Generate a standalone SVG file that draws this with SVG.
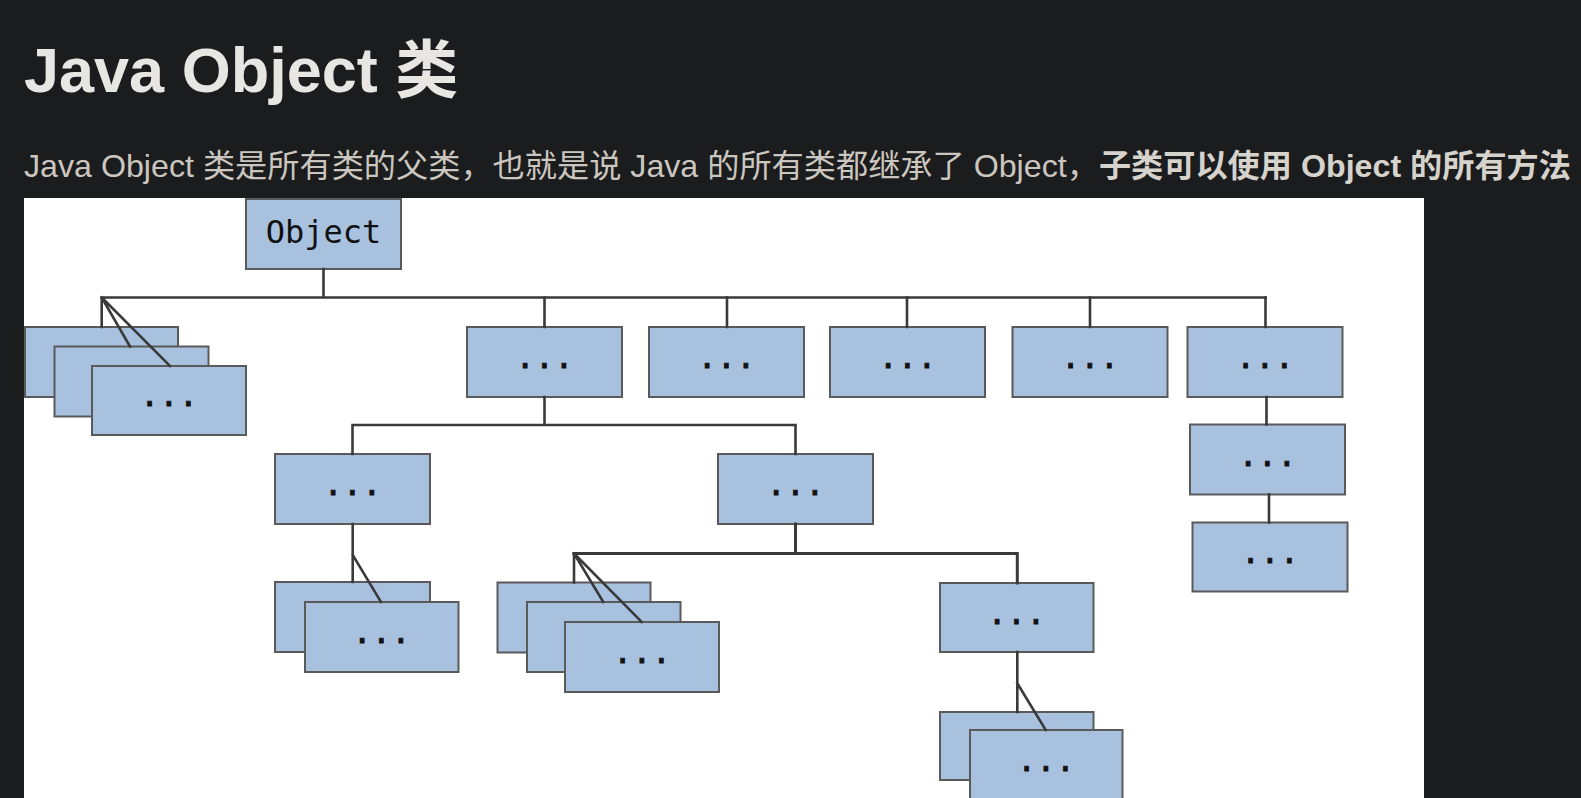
<svg xmlns="http://www.w3.org/2000/svg" width="1581" height="798" viewBox="0 0 1581 798">
<style>
.bg{fill:#1b1c1e}
.title{font-family:"Liberation Sans","Noto Sans CJK SC",sans-serif;font-weight:bold;font-size:63px;fill:#e8e6e3}
.body{font-family:"Liberation Sans","Noto Sans CJK SC",sans-serif;font-size:32.2px;fill:#cbc6bf}
.b{font-weight:bold;fill:#d6d2cc}
.box{fill:#a8c1df;stroke:#5a5a5a;stroke-width:2}
.lbl{font-family:"DejaVu Sans Mono",monospace;font-size:32px;fill:#111;text-anchor:middle}
.dots{font-family:"DejaVu Sans Mono",monospace;font-size:32px;fill:#111;stroke:#111;stroke-width:0.8;text-anchor:middle}
.ln{stroke:#3a3a3a;stroke-width:2.6;fill:none;stroke-linecap:square}
</style>
<rect class="bg" x="0" y="0" width="1581" height="798"/>
<text class="title" x="24" y="92">Java Object 类</text>
<text class="body" x="24" y="177">Java Object 类是所有类的父类，也就是说 Java 的所有类都继承了 Object，<tspan class="b">子类可以使用 Object 的所有方法</tspan></text>
<rect x="24" y="198" width="1400" height="600" fill="#ffffff"/>

<g id="n-object"><rect class="box" x="246" y="199" width="155" height="70"/><text class="lbl" x="323.5" y="243">Object</text></g>
<g id="n-left1"><rect class="box" x="25" y="327" width="153" height="70"/></g>
<g id="n-left2"><rect class="box" x="54.5" y="346.5" width="154" height="70"/></g>
<g id="n-left3"><rect class="box" x="92" y="366" width="154" height="69"/><text class="dots" x="169" y="406">...</text></g>
<g id="n-a"><rect class="box" x="467" y="327" width="155" height="70"/><text class="dots" x="544.5" y="368">...</text></g>
<g id="n-b"><rect class="box" x="649" y="327" width="155" height="70"/><text class="dots" x="726.5" y="368">...</text></g>
<g id="n-c"><rect class="box" x="830" y="327" width="155" height="70"/><text class="dots" x="907.5" y="368">...</text></g>
<g id="n-d"><rect class="box" x="1012.5" y="327" width="155" height="70"/><text class="dots" x="1090" y="368">...</text></g>
<g id="n-e"><rect class="box" x="1187.5" y="327" width="155" height="70"/><text class="dots" x="1265" y="368">...</text></g>
<g id="n-e2"><rect class="box" x="1190" y="424.5" width="155" height="70"/><text class="dots" x="1267.5" y="465.5">...</text></g>
<g id="n-e3"><rect class="box" x="1192.5" y="522.5" width="155" height="69"/><text class="dots" x="1270" y="563">...</text></g>
<g id="n-f"><rect class="box" x="275" y="454" width="155" height="70"/><text class="dots" x="352.5" y="495">...</text></g>
<g id="n-g"><rect class="box" x="718" y="454" width="155" height="70"/><text class="dots" x="795.5" y="495">...</text></g>
<g id="n-f1"><rect class="box" x="275" y="582" width="155" height="70"/></g>
<g id="n-f2"><rect class="box" x="305" y="602" width="153.5" height="70"/><text class="dots" x="381.5" y="643">...</text></g>
<g id="n-h1"><rect class="box" x="497.5" y="582.5" width="153" height="70"/></g>
<g id="n-h2"><rect class="box" x="527" y="602" width="153.5" height="70"/></g>
<g id="n-h3"><rect class="box" x="565" y="622" width="154" height="70"/><text class="dots" x="642" y="663">...</text></g>
<g id="n-i"><rect class="box" x="940" y="583" width="153.5" height="69"/><text class="dots" x="1016.5" y="623.5">...</text></g>
<g id="n-i1"><rect class="box" x="940" y="712" width="153.5" height="68"/></g>
<g id="n-i2"><rect class="box" x="970" y="730" width="152.5" height="70"/><text class="dots" x="1046" y="771">...</text></g>

<g id="connectors" class="ln">
<path d="M323.5 269 V297.5 M101.7 297.5 H1265.5"/>
<path d="M101.7 297.5 V327 M101.7 297.5 L130 346.5 M101.7 297.5 L170 366"/>
<path d="M544.5 297.5 V327 M727 297.5 V327 M907 297.5 V327 M1090 297.5 V327 M1265.5 297.5 V327"/>
<path d="M1266.5 397 V424.5 M1269 494.5 V522.5"/>
<path d="M544.5 397 V425 M352.5 425 H795.5 M352.5 425 V454 M795.5 425 V454"/>
<path d="M352.7 524 V582 M352.7 555 L381 602"/>
<path d="M795.5 524 V553.5 M574 553.5 H1017.3 M1017.3 553.5 V583" stroke-width="3"/>
<path d="M574 553.5 V582.5 M574 553.5 L603.3 602 M574 553.5 L641.7 622"/>
<path d="M1017.3 652 V712 M1017.3 683.3 L1045.7 730"/>
</g>
</svg>
